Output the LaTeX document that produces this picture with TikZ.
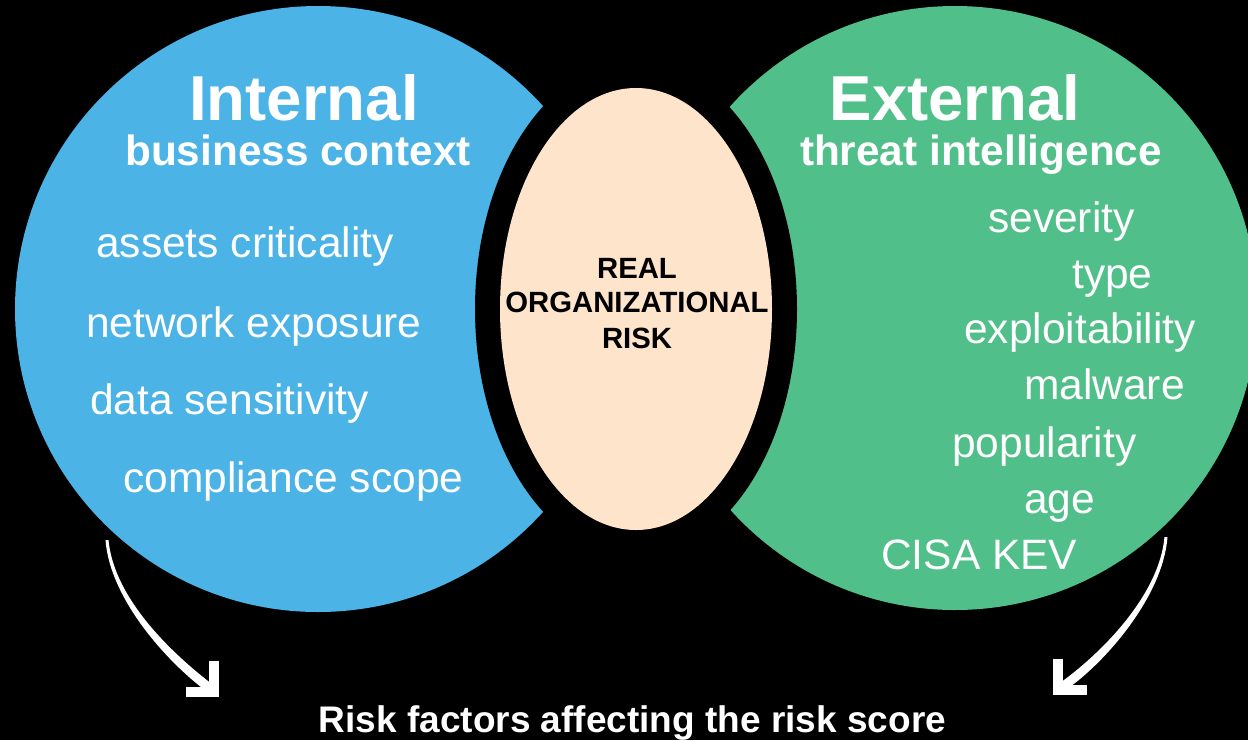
\documentclass[tikz,border=0pt]{standalone}
\usepackage{fontspec}
\setmainfont{Liberation Sans}
\usetikzlibrary{shapes.geometric,calc}
\definecolor{intblue}{RGB}{75,179,230}
\definecolor{extgreen}{RGB}{81,191,137}
\definecolor{peach}{RGB}{253,228,203}
\tikzset{
  blob/.style={circle, inner sep=0pt, minimum size=#1},
  egg/.style={ellipse, inner sep=0pt},
  head/.style={text=white, inner sep=0pt, anchor=base, font=\fontsize{63.5}{63}\selectfont\bfseries},
  subhead/.style={text=white, inner sep=0pt, anchor=base, font=\fontsize{42.3}{42}\selectfont\bfseries},
  item/.style={text=white, inner sep=0pt, anchor=base west, font=\fontsize{42.5}{42}\selectfont},
  centertext/.style={inner sep=0pt, anchor=base, font=\fontsize{29.3}{35}\selectfont\bfseries},
  arrowhead/.style={white, line width=10pt, line join=miter, line cap=butt}
}
\begin{document}
\begin{tikzpicture}[x=1pt,y=-1pt]
\useasboundingbox (0,0) rectangle (1248,740);
\fill[black] (0,0) rectangle (1248,740);
\clip (0,0) rectangle (1248,740);
% circles
\node[blob=606pt, fill=intblue] (internal) at (318,309) {};
\node[blob=604pt, fill=extgreen] (external) at (955,308) {};
% central ellipse with black ring
\node[egg, fill=black, minimum width=322pt, minimum height=496pt] (ring) at (636,309) {};
\node[egg, fill=peach, minimum width=272pt, minimum height=442pt] (risk) at (636,309) {};
% center text
\node[centertext] (t1) at (637,278) {REAL};
\node[centertext] (t2) at (637,312) {ORGANIZATIONAL};
\node[centertext] (t3) at (637,348) {RISK};
% headings
\node[head] (inthead) at (304,120) {Internal};
\node[subhead] (intsub) at (298,165) {business context};
\node[head] (exthead) at (955,120) {External};
\node[subhead] (extsub) at (981,165) {threat intelligence};
% internal items
\node[item] (i1) at (96,257) {assets criticality};
\node[item] (i2) at (86,337) {network exposure};
\node[item] (i3) at (90,414) {data sensitivity};
\node[item] (i4) at (123,492) {compliance scope};
% external items
\node[item] (e1) at (988,232) {severity};
\node[item] (e2) at (1072,288) {type};
\node[item] (e3) at (964,343) {exploitability};
\node[item] (e4) at (1024,399) {malware};
\node[item] (e5) at (952,457) {popularity};
\node[item] (e6) at (1024,513) {age};
\node[item] (e7) at (881,569) {CISA KEV};
% bottom caption
\node[inner sep=0pt, anchor=base, text=white, font=\fontsize{37}{37}\selectfont\bfseries] (caption) at (632.5,732) {Risk factors affecting the risk score};
% left arrow
\coordinate (la0) at (107,540);
\coordinate (la1) at (211,689);
\coordinate (lah) at (214,692);
\fill[white] ($(la0)+(-1.5,0)$) .. controls (110,600) and (169,664) .. ($(la1)+(-2.7,3.6)$)
  -- ($(la1)+(2.7,-3.6)$) .. controls (175,656) and (114,600) .. ($(la0)+(1.5,0)$) -- cycle;
\draw[arrowhead] ($(lah)+(-28,0)$) -- (lah) -- ($(lah)+(0,-31)$);
% right arrow
\coordinate (ra0) at (1166,537);
\coordinate (ra1) at (1062,687);
\coordinate (rah) at (1058,690);
\fill[white] ($(ra0)+(1.5,0)$) .. controls (1163,597) and (1104,664) .. ($(ra1)+(2.6,3.7)$)
  -- ($(ra1)+(-2.6,-3.7)$) .. controls (1098,656) and (1159,597) .. ($(ra0)+(-1.5,0)$) -- cycle;
\draw[arrowhead] ($(rah)+(29,0)$) -- (rah) -- ($(rah)+(0,-31)$);
\end{tikzpicture}
\end{document}
